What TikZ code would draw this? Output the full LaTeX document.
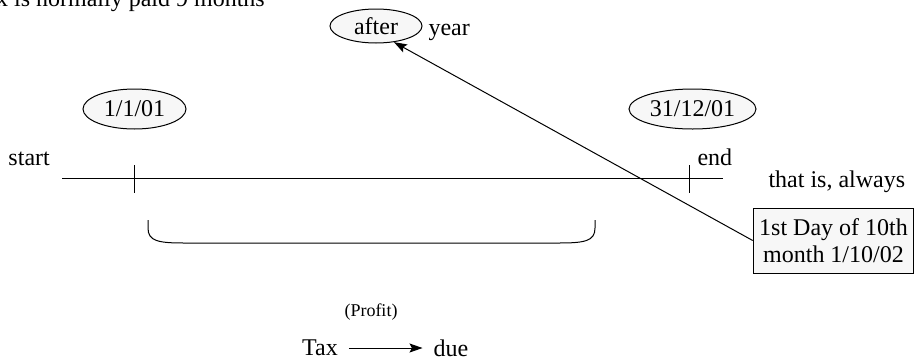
\documentclass[tikz,border=0pt]{standalone}
\usepackage{fontspec}
\setmainfont{Liberation Serif}
\usetikzlibrary{arrows.meta,positioning,shapes.geometric}
\tikzset{
  dateell/.style={draw=black, ellipse, fill=black!3, inner sep=0pt, minimum height=20pt},
  notebox/.style={draw=black, fill=black!3, align=center, inner sep=3pt, minimum width=79.5pt, minimum height=32.5pt},
  plaintxt/.style={anchor=base west, inner sep=0pt},
  farr/.style={-{Stealth[length=6.5pt,width=4.5pt,inset=1.2pt]}, line width=0.5pt}
}

\begin{document}
\begin{tikzpicture}[x=0.5pt, y=-0.5pt, font=\fontsize{12}{13.5}\selectfont, line width=0.5pt]
\useasboundingbox (0,0) rectangle (915,359);
\clip (0,0) rectangle (915,359);
\node[plaintxt] (title) at (-28,6) {Tax is normally paid 9 months};
\node[dateell, minimum width=46pt, minimum height=17pt] (after) at (376,26) {after};
\node[plaintxt] (year) at (428,35) {year};
% the year line
\coordinate (tl-w) at (62,178);
\coordinate (tl-e) at (723,178);
\coordinate (t1) at (134,178);
\coordinate (t2) at (689,178);
\draw (tl-w) -- (tl-e);
\draw (t1) ++(0,-13) -- ++(0,28);
\draw (t2) ++(0,-13) -- ++(0,28);
\node[dateell, minimum width=51.5pt] (d1) at (134.5,109) {1/1/01};
\node[dateell, minimum width=63.5pt] (d2) at (692.5,109) {31/12/01};
\node[plaintxt] (start) at (8,165) {start};
\node[plaintxt] (end) at (697,165) {end};
\node[plaintxt] (always) at (768,187) {that is, always};
\node[notebox] (note) at (833.5,240.5) {1st Day of 10th\\month 1/10/02};
\draw[farr] (note.west) -- (after.-42);
% bracket under the year
\draw (148,220) -- (148,228) .. controls (148,241) and (158,243) .. (184,243)
  -- (559,243) .. controls (585,243) and (595,241) .. (595,228) -- (595,220);
\node[font=\fontsize{9}{10}\selectfont] (profit) at (371,312) {(Profit)};
\node (tax) at (320,348) {Tax};
\node (due) at (451,348) {due};
\draw[farr, shorten <=2pt, shorten >=2pt] (tax) -- (due);
\end{tikzpicture}
\end{document}
